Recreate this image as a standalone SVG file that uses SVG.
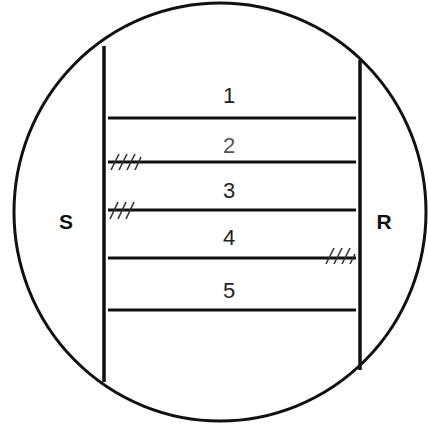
<svg xmlns="http://www.w3.org/2000/svg" width="428" height="432" viewBox="0 0 428 432">
<style>
.ln{stroke:#111;stroke-width:3;fill:none}
.rail{stroke:#111;stroke-width:3.5;fill:none}
.h{stroke:#333;stroke-width:1.6;fill:none}
.num{font-family:"Liberation Sans",Arial,sans-serif;font-size:22px;fill:#222;text-anchor:middle}
.side{font-family:"Liberation Sans",Arial,sans-serif;font-size:21px;font-weight:bold;fill:#111;text-anchor:middle}
</style>
<rect width="428" height="432" fill="#fff"/>
<g id="boundary">
<ellipse cx="220" cy="212" rx="206" ry="209" class="ln"/>
</g>
<g id="S">
<line x1="104" y1="46" x2="104" y2="382" class="rail"/>
<text x="66" y="229" class="side">S</text>
</g>
<g id="R">
<line x1="360" y1="60" x2="360" y2="370" class="rail"/>
<text x="384" y="229" class="side">R</text>
</g>
<g id="connectors">
<line x1="108" y1="118" x2="356" y2="118" class="ln"/>
<line x1="108" y1="162" x2="356" y2="162" class="ln"/>
<line x1="108" y1="210" x2="356" y2="210" class="ln"/>
<line x1="108" y1="258" x2="356" y2="258" class="ln"/>
<line x1="108" y1="310" x2="356" y2="310" class="ln"/>
</g>
<g id="c1"><text x="229" y="103" class="num">1</text></g>
<g id="c2"><text x="229" y="153" class="num" fill="#555" style="fill:#555">2</text></g>
<g id="c3"><text x="229" y="198" class="num">3</text></g>
<g id="c4"><text x="229" y="245" class="num">4</text></g>
<g id="c5"><text x="229" y="298" class="num">5</text></g>
<g id="hatch2">
<path d="M111 170 L119 154 M119 170 L127 154 M127 170 L135 154 M135 170 L141 157" class="h"/>
</g>
<g id="hatch3">
<path d="M110 219 L118 202 M118 219 L126 202 M126 219 L134 202" class="h"/>
</g>
<g id="hatch4">
<path d="M326 264 L334 248 M334 264 L342 248 M342 264 L350 248 M350 264 L355 254" class="h"/>
</g>
</svg>
